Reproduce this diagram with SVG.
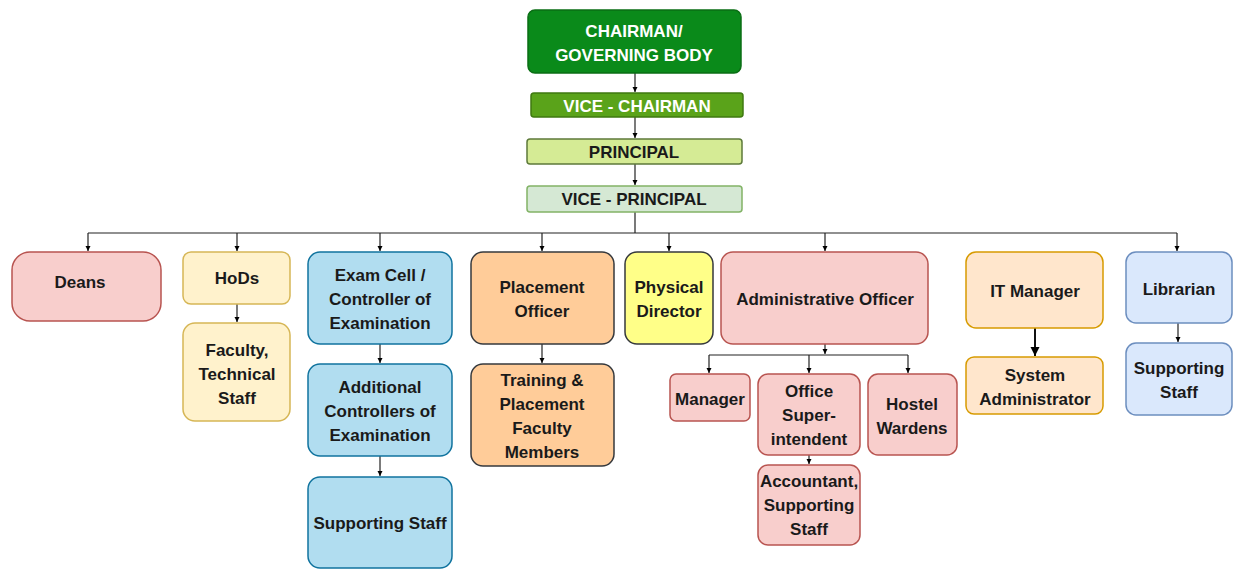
<svg xmlns="http://www.w3.org/2000/svg" width="1255" height="585" viewBox="0 0 1255 585">
<defs>
<marker id="ah" markerWidth="6" markerHeight="6" refX="5" refY="3" orient="auto" markerUnits="userSpaceOnUse"><path d="M0,0.5 L5,3 L0,5.5 Z" fill="#000"/></marker>
<marker id="ahb" markerWidth="10" markerHeight="10" refX="9" refY="5" orient="auto" markerUnits="userSpaceOnUse"><path d="M0,0.5 L9,5 L0,9.5 Z" fill="#000"/></marker>
<style>
text{font-family:"Liberation Sans",Arial,sans-serif;font-weight:bold;font-size:17px;text-anchor:middle;fill:#1a1a1a}
.w{fill:#fff}
.c{fill:none;stroke:#222;stroke-width:1.2}
.red{fill:#f8cecc;stroke:#b85450;stroke-width:1.5}
.yel{fill:#fff2cc;stroke:#d6b656;stroke-width:1.5}
.blu{fill:#b1ddf0;stroke:#10739e;stroke-width:1.5}
.org{fill:#ffcc99;stroke:#36393d;stroke-width:1.5}
.lyl{fill:#ffff88;stroke:#36393d;stroke-width:1.5}
.ora{fill:#ffe6cc;stroke:#d79b00;stroke-width:1.5}
.lbl{fill:#dae8fc;stroke:#6c8ebf;stroke-width:1.5}
</style>
</defs>
<rect width="1255" height="585" fill="#fff"/>
<g id="connectors">
<path class="c" d="M635,73 V92" marker-end="url(#ah)"/>
<path class="c" d="M635,117 V138" marker-end="url(#ah)"/>
<path class="c" d="M635,164 V185" marker-end="url(#ah)"/>
<path class="c" d="M635,212 V233 M88,233 H1177"/>
<path class="c" d="M88,233 V251" marker-end="url(#ah)"/>
<path class="c" d="M237,233 V251" marker-end="url(#ah)"/>
<path class="c" d="M380,233 V251" marker-end="url(#ah)"/>
<path class="c" d="M542,233 V251" marker-end="url(#ah)"/>
<path class="c" d="M669,233 V251" marker-end="url(#ah)"/>
<path class="c" d="M825,233 V251" marker-end="url(#ah)"/>
<path class="c" d="M1177,233 V251" marker-end="url(#ah)"/>
<path class="c" d="M237,304 V322" marker-end="url(#ah)"/>
<path class="c" d="M380,344 V363" marker-end="url(#ah)"/>
<path class="c" d="M380,456 V476" marker-end="url(#ah)"/>
<path class="c" d="M542,344 V363" marker-end="url(#ah)"/>
<path class="c" d="M825,344 V354"  marker-end="url(#ah)"/>
<path class="c" d="M709,355 H908"/>
<path class="c" d="M709,355 V373" marker-end="url(#ah)"/>
<path class="c" d="M809,355 V373" marker-end="url(#ah)"/>
<path class="c" d="M908,355 V373" marker-end="url(#ah)"/>
<path class="c" d="M809,455 V464" marker-end="url(#ah)"/>
<path d="M1035,328 V356" fill="none" stroke="#111" stroke-width="2" marker-end="url(#ahb)"/>
<path class="c" d="M1178,323 V342" marker-end="url(#ah)"/>
</g>
<g id="chairman"><rect x="528" y="10" width="213" height="63" rx="7" fill="#0a8a1a" stroke="#0a6e14" stroke-width="1.5"/><text class="w" x="634" y="37">CHAIRMAN/</text><text class="w" x="634" y="61">GOVERNING BODY</text></g>
<g id="vice-chairman"><rect x="531" y="93" width="212" height="24" rx="3" fill="#5aa31a" stroke="#3f7a10" stroke-width="1.5"/><text class="w" x="637" y="112">VICE - CHAIRMAN</text></g>
<g id="principal"><rect x="527" y="139" width="215" height="25" rx="3" fill="#d5eb95" stroke="#5d7a3a" stroke-width="1.5"/><text x="634" y="158">PRINCIPAL</text></g>
<g id="vice-principal"><rect x="527" y="186" width="215" height="26" rx="3" fill="#d5e8d4" stroke="#82b366" stroke-width="1.5"/><text x="634" y="205">VICE - PRINCIPAL</text></g>
<g id="deans"><rect class="red" x="12" y="252" width="149" height="69" rx="18"/><text x="80" y="288">Deans</text></g>
<g id="hods"><rect class="yel" x="183" y="252" width="107" height="52" rx="8"/><text x="237" y="284">HoDs</text></g>
<g id="faculty"><rect class="yel" x="183" y="323" width="107" height="98" rx="12"/><text x="237" y="356">Faculty,</text><text x="237" y="380">Technical</text><text x="237" y="404">Staff</text></g>
<g id="exam-cell"><rect class="blu" x="308" y="252" width="144" height="92" rx="12"/><text x="380" y="281">Exam Cell /</text><text x="380" y="305">Controller of</text><text x="380" y="329">Examination</text></g>
<g id="additional"><rect class="blu" x="308" y="364" width="144" height="92" rx="12"/><text x="380" y="393">Additional</text><text x="380" y="417">Controllers of</text><text x="380" y="441">Examination</text></g>
<g id="exam-support"><rect class="blu" x="308" y="477" width="144" height="91" rx="12"/><text x="380" y="529">Supporting Staff</text></g>
<g id="placement"><rect class="org" x="471" y="252" width="143" height="92" rx="12"/><text x="542" y="293">Placement</text><text x="542" y="317">Officer</text></g>
<g id="training"><rect class="org" x="471" y="364" width="143" height="102" rx="12"/><text x="542" y="386">Training &amp;</text><text x="542" y="410">Placement</text><text x="542" y="434">Faculty</text><text x="542" y="458">Members</text></g>
<g id="physical"><rect class="lyl" x="625" y="252" width="88" height="92" rx="12"/><text x="669" y="293">Physical</text><text x="669" y="317">Director</text></g>
<g id="admin"><rect class="red" x="721" y="252" width="207" height="92" rx="12"/><text x="825" y="305">Administrative Officer</text></g>
<g id="manager"><rect class="red" x="670" y="374" width="80" height="47" rx="6"/><text x="710" y="405">Manager</text></g>
<g id="office-sup"><rect class="red" x="758" y="374" width="102" height="81" rx="10"/><text x="809" y="397">Office</text><text x="809" y="421">Super-</text><text x="809" y="445">intendent</text></g>
<g id="hostel"><rect class="red" x="868" y="374" width="89" height="81" rx="10"/><text x="912" y="410">Hostel</text><text x="912" y="434">Wardens</text></g>
<g id="accountant"><rect class="red" x="758" y="465" width="102" height="80" rx="10"/><text x="809" y="487">Accountant,</text><text x="809" y="511">Supporting</text><text x="809" y="535">Staff</text></g>
<g id="it-manager"><rect class="ora" x="966" y="252" width="137" height="76" rx="10"/><text x="1035" y="297">IT Manager</text></g>
<g id="sysadmin"><rect class="ora" x="966" y="357" width="137" height="57" rx="8"/><text x="1035" y="381">System</text><text x="1035" y="405">Administrator</text></g>
<g id="librarian"><rect class="lbl" x="1126" y="252" width="106" height="71" rx="10"/><text x="1179" y="295">Librarian</text></g>
<g id="lib-support"><rect class="lbl" x="1126" y="343" width="106" height="72" rx="10"/><text x="1179" y="374">Supporting</text><text x="1179" y="398">Staff</text></g>
</svg>
